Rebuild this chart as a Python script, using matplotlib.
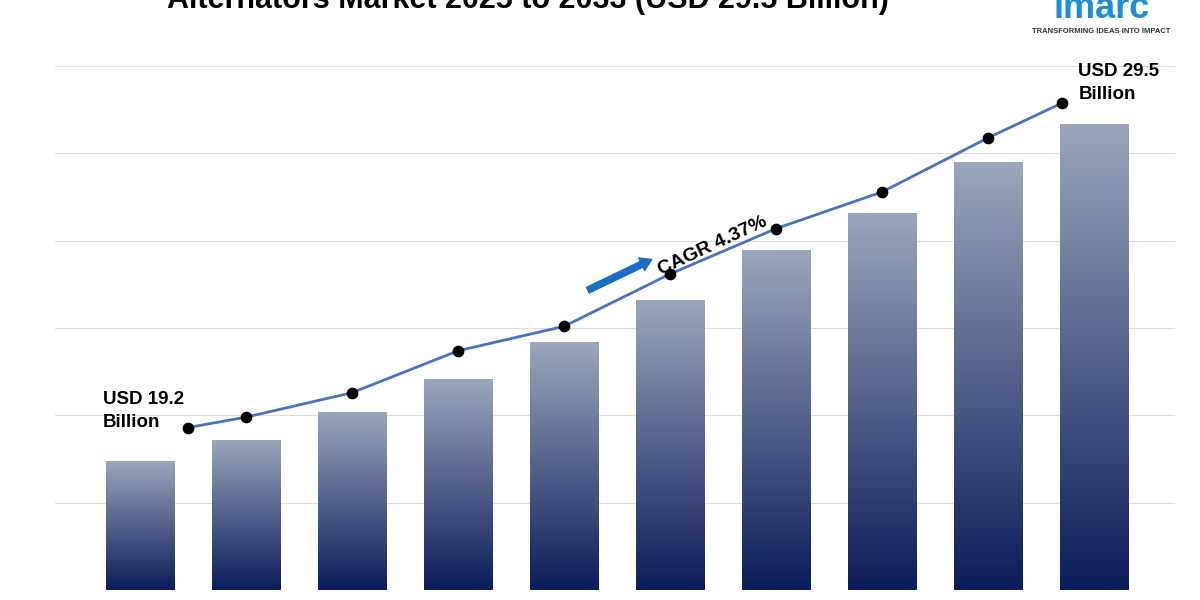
import matplotlib
matplotlib.use("Agg")
import matplotlib.pyplot as plt
import numpy as np
from matplotlib.colors import LinearSegmentedColormap

plt.rcParams['font.family'] = ['Liberation Sans', 'DejaVu Sans']

years = ["2024","2025","2026","2027","2028","2029","2030","2031","2032","2033"]
bar_values = [7.4, 8.6, 10.2, 12.1, 14.2, 16.6, 19.5, 21.6, 24.5, 26.7]
line_x = [0.45, 1, 2, 3, 4, 5, 6, 7, 8, 8.7]
line_values = [9.3, 9.9, 11.3, 13.7, 15.1, 18.1, 20.7, 22.8, 25.9, 27.9]

fig = plt.figure(figsize=(12, 6), dpi=100)
ax = fig.add_axes([0.046, 0.0167, 0.933, 0.873])
ax.set_xlim(-0.80, 9.76)
ax.set_ylim(0, 30)
for y in range(0, 31, 5):
    ax.axhline(y, color="#dddddd", lw=0.8, zorder=0)
for s in ax.spines.values():
    s.set_visible(False)
ax.set_xticks([]); ax.set_yticks([])

cmap = LinearSegmentedColormap.from_list("g", ["#0b1d5a", "#9ca6bb"])
grad = np.linspace(0, 1, 256).reshape(-1, 1)
w = 0.65
for i, v in enumerate(bar_values):
    bars = ax.bar(i, v, width=w, color="none", zorder=2)
    im = ax.imshow(grad, extent=[i - w/2, i + w/2, 0, v], origin="lower",
                   cmap=cmap, aspect="auto", zorder=2)
    im.set_clip_path(bars[0])
ax.set_xlim(-0.80, 9.76); ax.set_ylim(0, 30)

ax.plot(line_x, line_values, color="#4a72c0", lw=2, zorder=3)
ax.scatter(line_x, line_values, color="black", s=55, zorder=4)

ax.text(-0.35, 9.1, "USD 19.2\nBillion", fontsize=13.5, fontweight="bold", ha="left", va="bottom", linespacing=1.45)
ax.text(8.85, 27.9, "USD 29.5\nBillion", fontsize=13.5, fontweight="bold", ha="left", va="bottom", linespacing=1.45)

ax.annotate("", xy=(4.85, 19.0), xytext=(4.2, 17.1),
            arrowprops=dict(arrowstyle="simple,head_width=1.0,head_length=0.8,tail_width=0.45",
                            color="#1a6fc0"))
ax.text(5.4, 19.7, "CAGR 4.37%", fontsize=14, fontweight="bold", rotation=25,
        ha="center", va="center")

fig.text(0.44, 1.0, "Alternators Market 2025 to 2033 (USD 29.5 Billion)", fontsize=22,
         fontweight="bold", ha="center", va="center")
fig.text(0.918, 0.985, "imarc", fontsize=26, fontweight="bold", color="#1a8fd6",
         ha="center", va="center")
fig.text(0.918, 0.947, "TRANSFORMING IDEAS INTO IMPACT", fontsize=5.5, fontweight="bold",
         color="#333333", ha="center", va="center")

fig.savefig("out.png", dpi=100)
